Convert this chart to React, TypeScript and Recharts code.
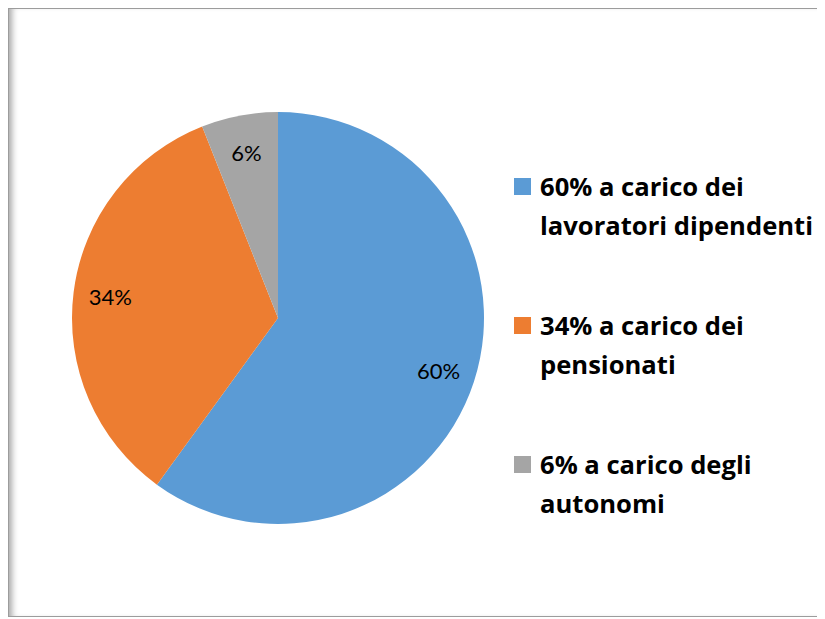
import React from 'react';
import { PieChart, Pie, Cell, Legend } from 'recharts';

// Categories & values
const CATEGORIES = [
  '60% a carico dei\nlavoratori dipendenti',
  '34% a carico dei\npensionati',
  '6% a carico degli\nautonomi',
];
const VALUES = [60, 34, 6];
const LABELS = ['60%', '34%', '6%'];
const COLORS = ['#5B9BD5', '#ED7D31', '#A5A5A5'];

const data = CATEGORIES.map((name, i) => ({ name, value: VALUES[i], label: LABELS[i] }));

const RADIAN = Math.PI / 180;

const renderLabel = (props: any) => {
  const { cx, cy, midAngle, outerRadius, index } = props;
  const r = outerRadius * 0.82;
  const x = cx + r * Math.cos(-midAngle * RADIAN);
  const y = cy + r * Math.sin(-midAngle * RADIAN);
  return (
    <text
      x={x}
      y={y}
      fill="#000"
      textAnchor="middle"
      dominantBaseline="central"
      style={{ fontFamily: 'Lato, sans-serif', fontSize: 22 }}
    >
      {LABELS[index]}
    </text>
  );
};

const LegendContent = () => (
  <div style={{ fontFamily: '"Open Sans", sans-serif', fontWeight: 700, fontSize: 25.6, color: '#000' }}>
    {CATEGORIES.map((name, i) => (
      <div key={i} style={{ display: 'flex', alignItems: 'flex-start', marginBottom: 61 }}>
        <div style={{ width: 17, height: 17, background: COLORS[i], marginTop: 11, marginRight: 9, flexShrink: 0 }} />
        <div style={{ lineHeight: '39px', whiteSpace: 'pre' }}>{name}</div>
      </div>
    ))}
  </div>
);

export default function App() {
  return (
    <div
      style={{
        position: 'relative',
        width: 815,
        height: 609,
        border: '1px solid #9c9c9c',
        boxSizing: 'border-box',
        overflow: 'hidden',
        background: '#fff',
        boxShadow: 'inset 7px 0 6px -4px #a8a8a8',
      }}
    >
      <PieChart width={813} height={607}>
        <Pie
          data={data}
          dataKey="value"
          nameKey="name"
          cx={264}
          cy={304}
          outerRadius={206}
          startAngle={90}
          endAngle={-270}
          stroke="none"
          label={renderLabel}
          labelLine={false}
          isAnimationActive={false}
        >
          {data.map((entry, i) => (
            <Cell key={`cell-${i}`} fill={COLORS[i]} />
          ))}
        </Pie>
        <Legend
          content={<LegendContent />}
          layout="vertical"
          wrapperStyle={{ left: 505, top: 158, width: 360 }}
        />
      </PieChart>
    </div>
  );
}
